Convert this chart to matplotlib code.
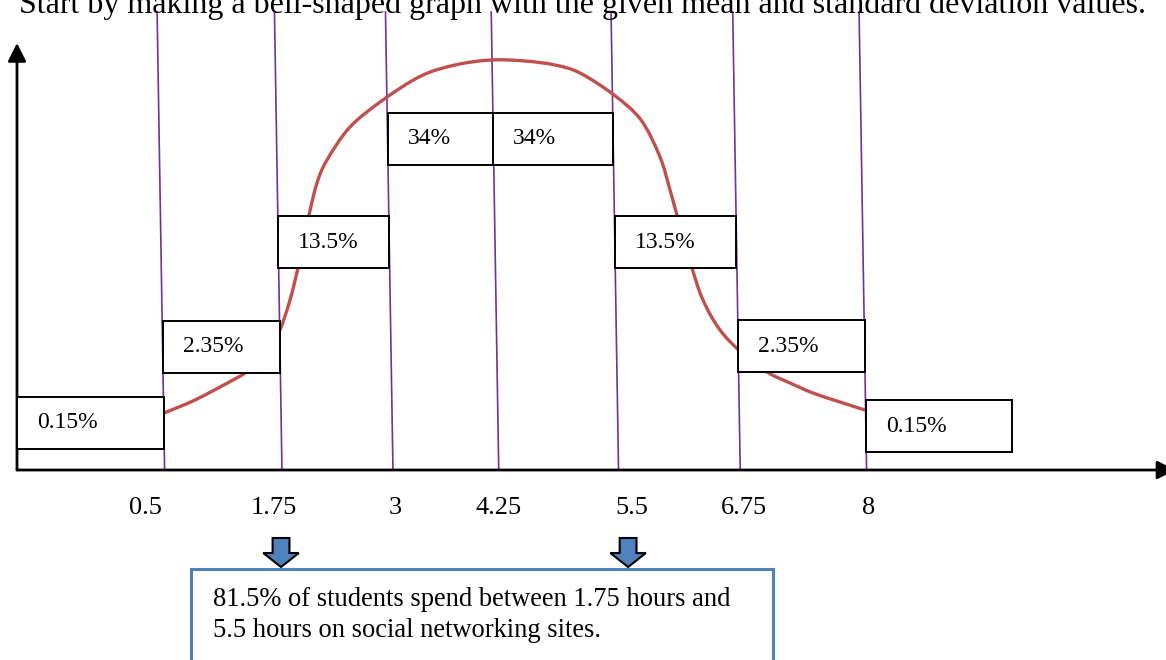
import matplotlib
matplotlib.use('Agg')
import matplotlib.pyplot as plt
from matplotlib.patches import Rectangle, Polygon, PathPatch
from matplotlib.path import Path

plt.rcParams['font.family'] = ['Liberation Serif', 'DejaVu Serif']

# hours (x) and sketch height (y)
ticks = [0.5, 1.75, 3, 4.25, 5.5, 6.75, 8]
tick_label_x = [0.30, 1.67, 2.96, 4.07, 5.49, 6.69, 8.02]
line_foot = [0.5, 1.754, 2.94, 4.07, 5.35, 6.65, 8.0]   # where the purple lines hit the axis
pcts = ['0.15%', '2.35%', '13.5%', '34%', '34%', '13.5%', '2.35%', '0.15%']
box_bottom = [21, 97, 202, 305, 305, 202, 98, 18]
arrow_x = [1.744, 5.452]

curve_x = [0.494, 0.825, 1.231, 1.359, 1.498, 1.626, 1.733, 1.840, 1.925, 1.989,
           2.043, 2.128, 2.235, 2.481, 2.833, 3.239, 3.603, 3.987, 4.350, 4.671,
           4.938, 5.301, 5.590, 5.793, 5.900, 5.974, 6.060, 6.135, 6.252, 6.434,
           6.669, 6.936, 7.182, 7.427, 7.716, 7.983]
curve_y = [57, 70, 90, 97, 108, 122, 140, 170, 202, 230,
           255, 287, 310, 343, 370, 394, 405, 410, 409, 405,
           397, 375, 350, 313, 280, 255, 228, 202, 170, 140,
           117, 98, 87, 77, 68, 60]

title = 'Start by making a bell-shaped graph with the given mean and standard deviation values.'
note_lines = ['81.5% of students spend between 1.75 hours and',
              '5.5 hours on social networking sites.']

purple = '#7030A0'
red = '#C0504D'
blue = '#4F81BD'

fig = plt.figure(figsize=(11.66, 6.6), dpi=100)
ax = fig.add_axes([0, 0, 1, 1])
ax.set_xlim(-1.2585, 11.199)
ax.set_ylim(-190, 470)
ax.axis('off')

axis_x = -1.077
line_top = 458
lean = -0.08   # lines lean a bit to the left at the top

# title, cut off at the top edge like the scan
ax.text(-1.056, 457, title, fontsize=23, va='baseline', ha='left')

# axes with arrow heads
ax.annotate('', xy=(axis_x, 427), xytext=(axis_x, 0),
            arrowprops=dict(arrowstyle='-|>,head_length=1.1,head_width=0.55',
                            color='black', lw=2, shrinkA=0, shrinkB=0))
ax.annotate('', xy=(11.3, 0), xytext=(axis_x, 0),
            arrowprops=dict(arrowstyle='-|>,head_length=1.1,head_width=0.55',
                            color='black', lw=2, shrinkA=0, shrinkB=0),
            annotation_clip=False)

# purple boundary lines
for xf in line_foot:
    ax.plot([xf, xf + lean], [0, line_top], color=purple, lw=1.2, zorder=1)

# bell curve, drawn as a smooth bezier through the read-off points
verts = [(curve_x[0], curve_y[0])]
codes = [Path.MOVETO]
n = len(curve_x)
for i in range(n - 1):
    p0 = (curve_x[max(i - 1, 0)], curve_y[max(i - 1, 0)])
    p1 = (curve_x[i], curve_y[i])
    p2 = (curve_x[i + 1], curve_y[i + 1])
    p3 = (curve_x[min(i + 2, n - 1)], curve_y[min(i + 2, n - 1)])
    c1 = (p1[0] + (p2[0] - p0[0]) / 6, p1[1] + (p2[1] - p0[1]) / 6)
    c2 = (p2[0] - (p3[0] - p1[0]) / 6, p2[1] - (p3[1] - p1[1]) / 6)
    verts += [c1, c2, p2]
    codes += [Path.CURVE4] * 3
ax.add_patch(PathPatch(Path(verts, codes), facecolor='none', edgecolor=red,
                       lw=2.4, zorder=2))

# percentage boxes between the lines
def line_at(i, y):
    return line_foot[i] + lean * y / line_top

box_h = 52
for i, (lab, yb) in enumerate(zip(pcts, box_bottom)):
    ym = yb + box_h / 2
    left = axis_x if i == 0 else line_at(i - 1, ym)
    right = line_at(i, ym) if i < len(line_foot) else line_at(i - 1, ym) + 1.56
    ax.add_patch(Rectangle((left, yb), right - left, box_h, facecolor='white',
                           edgecolor='black', lw=1.4, zorder=3))
    ax.text(left + 0.214, ym, lab, fontsize=17, va='center', ha='left', zorder=4)

# tick labels under the axis
for xl, t in zip(tick_label_x, ticks):
    ax.text(xl, -44, '{:g}'.format(t), fontsize=19, ha='center', va='baseline')

# block arrows pointing at the note
for xa in arrow_x:
    sw, hw = 0.09, 0.19
    pts = [(xa - sw, -68), (xa + sw, -68), (xa + sw, -83), (xa + hw, -83),
           (xa, -97), (xa - hw, -83), (xa - sw, -83)]
    ax.add_patch(Polygon(pts, closed=True, facecolor=blue, edgecolor='black', lw=1.5))

# note box
ax.add_patch(Rectangle((0.784, -230), 6.998 - 0.784, 131, facecolor='none',
                       edgecolor=blue, lw=2.2))
for k, line in enumerate(note_lines):
    ax.text(1.017, -136 - 31 * k, line, fontsize=19.1, va='baseline', ha='left')

fig.savefig('out.png', dpi=100)
